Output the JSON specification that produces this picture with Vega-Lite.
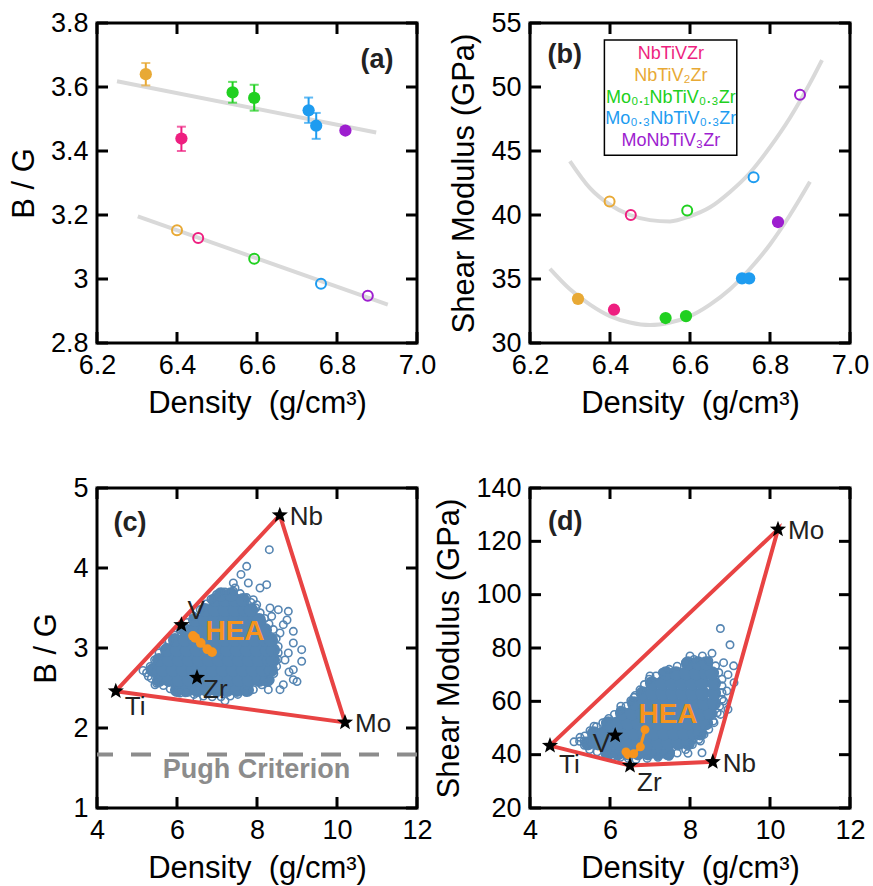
{
"$schema": "https://vega.github.io/schema/vega-lite/v6.json",
"padding": {"left": 6, "top": 7, "right": 5, "bottom": 5},
"bounds": "flush",
"columns": 2,
"spacing": {"row": 145, "column": 113},
"datasets": {
"tkAx": [{"v":6.2},{"v":6.4},{"v":6.6},{"v":6.8},{"v":7.0}],
"tkAy": [{"v":2.8},{"v":3.0},{"v":3.2},{"v":3.4},{"v":3.6},{"v":3.8}],
"tkBy": [{"v":30},{"v":35},{"v":40},{"v":45},{"v":50},{"v":55}],
"tkCx": [{"v":4},{"v":6},{"v":8},{"v":10},{"v":12}],
"tkCy": [{"v":1},{"v":2},{"v":3},{"v":4},{"v":5}],
"tkDy": [{"v":20},{"v":40},{"v":60},{"v":80},{"v":100},{"v":120},{"v":140}],
"fitA": [{"g":"u","x":6.25,"y":3.618},{"g":"u","x":6.898,"y":3.458},{"g":"l","x":6.302,"y":3.196},{"g":"l","x":6.927,"y":2.92}],
"filledA": [
{"alloy":"NbTiV2Zr","x":6.322,"y":3.64,"lo":3.605,"hi":3.675},
{"alloy":"NbTiVZr","x":6.411,"y":3.439,"lo":3.4,"hi":3.476},
{"alloy":"Mo0.1NbTiV0.3Zr","x":6.539,"y":3.583,"lo":3.551,"hi":3.616},
{"alloy":"Mo0.1NbTiV0.3Zr","x":6.593,"y":3.566,"lo":3.526,"hi":3.607},
{"alloy":"Mo0.3NbTiV0.3Zr","x":6.729,"y":3.527,"lo":3.488,"hi":3.567},
{"alloy":"Mo0.3NbTiV0.3Zr","x":6.748,"y":3.479,"lo":3.438,"hi":3.519},
{"alloy":"MoNbTiV3Zr","x":6.821,"y":3.464,"lo":3.464,"hi":3.464}],
"openA": [
{"alloy":"NbTiV2Zr","x":6.40,"y":3.152},
{"alloy":"NbTiVZr","x":6.453,"y":3.128},
{"alloy":"Mo0.1NbTiV0.3Zr","x":6.593,"y":3.063},
{"alloy":"Mo0.3NbTiV0.3Zr","x":6.76,"y":2.985},
{"alloy":"MoNbTiV3Zr","x":6.877,"y":2.948}],
"fitB": [
{"g":"u","x":6.30,"y":44.2},{"g":"u","x":6.35,"y":42.1},{"g":"u","x":6.40,"y":40.8},{"g":"u","x":6.45,"y":40.0},{"g":"u","x":6.50,"y":39.6},{"g":"u","x":6.55,"y":39.5},{"g":"u","x":6.60,"y":39.9},{"g":"u","x":6.65,"y":40.6},{"g":"u","x":6.70,"y":41.8},{"g":"u","x":6.75,"y":43.3},{"g":"u","x":6.80,"y":45.3},{"g":"u","x":6.85,"y":47.6},{"g":"u","x":6.90,"y":50.3},{"g":"u","x":6.93,"y":52.1},
{"g":"l","x":6.25,"y":35.8},{"g":"l","x":6.30,"y":34.2},{"g":"l","x":6.35,"y":33.0},{"g":"l","x":6.40,"y":32.1},{"g":"l","x":6.45,"y":31.6},{"g":"l","x":6.50,"y":31.4},{"g":"l","x":6.55,"y":31.6},{"g":"l","x":6.60,"y":32.1},{"g":"l","x":6.65,"y":33.0},{"g":"l","x":6.70,"y":34.2},{"g":"l","x":6.75,"y":35.8},{"g":"l","x":6.80,"y":37.7},{"g":"l","x":6.85,"y":40.0},{"g":"l","x":6.90,"y":42.6}],
"filledB": [
{"alloy":"NbTiV2Zr","x":6.32,"y":33.45},
{"alloy":"NbTiVZr","x":6.41,"y":32.6},
{"alloy":"Mo0.1NbTiV0.3Zr","x":6.539,"y":31.95},
{"alloy":"Mo0.1NbTiV0.3Zr","x":6.59,"y":32.1},
{"alloy":"Mo0.3NbTiV0.3Zr","x":6.73,"y":35.05},
{"alloy":"Mo0.3NbTiV0.3Zr","x":6.748,"y":35.05},
{"alloy":"MoNbTiV3Zr","x":6.82,"y":39.45}],
"openB": [
{"alloy":"NbTiV2Zr","x":6.399,"y":41.05},
{"alloy":"NbTiVZr","x":6.452,"y":40.0},
{"alloy":"Mo0.1NbTiV0.3Zr","x":6.593,"y":40.35},
{"alloy":"Mo0.3NbTiV0.3Zr","x":6.759,"y":42.95},
{"alloy":"MoNbTiV3Zr","x":6.875,"y":49.4}],
"coreC": [
{"x":6.0,"y":2.475},{"x":6.25,"y":2.475},{"x":6.5,"y":2.475},{"x":6.75,"y":2.475},{"x":7.0,"y":2.475},{"x":7.25,"y":2.475},{"x":7.5,"y":2.475},{"x":7.75,"y":2.475},
{"x":5.55,"y":2.6},{"x":5.8,"y":2.6},{"x":6.05,"y":2.6},{"x":6.3,"y":2.6},{"x":6.55,"y":2.6},{"x":6.8,"y":2.6},{"x":7.05,"y":2.6},{"x":7.3,"y":2.6},{"x":7.55,"y":2.6},{"x":7.8,"y":2.6},{"x":8.05,"y":2.6},{"x":8.25,"y":2.6},
{"x":5.4,"y":2.725},{"x":5.65,"y":2.725},{"x":5.9,"y":2.725},{"x":6.15,"y":2.725},{"x":6.4,"y":2.725},{"x":6.65,"y":2.725},{"x":6.9,"y":2.725},{"x":7.15,"y":2.725},{"x":7.4,"y":2.725},{"x":7.65,"y":2.725},{"x":7.9,"y":2.725},{"x":8.15,"y":2.725},{"x":8.35,"y":2.725},
{"x":5.55,"y":2.85},{"x":5.8,"y":2.85},{"x":6.05,"y":2.85},{"x":6.3,"y":2.85},{"x":6.55,"y":2.85},{"x":6.8,"y":2.85},{"x":7.05,"y":2.85},{"x":7.3,"y":2.85},{"x":7.55,"y":2.85},{"x":7.8,"y":2.85},{"x":8.05,"y":2.85},{"x":8.3,"y":2.85},{"x":8.4,"y":2.85},
{"x":5.75,"y":2.975},{"x":6.0,"y":2.975},{"x":6.25,"y":2.975},{"x":6.5,"y":2.975},{"x":6.75,"y":2.975},{"x":7.0,"y":2.975},{"x":7.25,"y":2.975},{"x":7.5,"y":2.975},{"x":7.75,"y":2.975},{"x":8.0,"y":2.975},{"x":8.25,"y":2.975},{"x":8.4,"y":2.975},
{"x":5.95,"y":3.1},{"x":6.2,"y":3.1},{"x":6.45,"y":3.1},{"x":6.7,"y":3.1},{"x":6.95,"y":3.1},{"x":7.2,"y":3.1},{"x":7.45,"y":3.1},{"x":7.7,"y":3.1},{"x":7.95,"y":3.1},{"x":8.2,"y":3.1},{"x":8.35,"y":3.1},
{"x":6.2,"y":3.225},{"x":6.45,"y":3.225},{"x":6.7,"y":3.225},{"x":6.95,"y":3.225},{"x":7.2,"y":3.225},{"x":7.45,"y":3.225},{"x":7.7,"y":3.225},{"x":7.95,"y":3.225},{"x":8.2,"y":3.225},
{"x":6.45,"y":3.35},{"x":6.7,"y":3.35},{"x":6.95,"y":3.35},{"x":7.2,"y":3.35},{"x":7.45,"y":3.35},{"x":7.7,"y":3.35},{"x":7.95,"y":3.35},{"x":8.05,"y":3.35},
{"x":6.7,"y":3.475},{"x":6.95,"y":3.475},{"x":7.2,"y":3.475},{"x":7.45,"y":3.475},{"x":7.7,"y":3.475},{"x":7.85,"y":3.475},
{"x":6.95,"y":3.6},{"x":7.2,"y":3.6},{"x":7.45,"y":3.6},{"x":7.65,"y":3.6},
{"x":7.1,"y":3.67},{"x":7.35,"y":3.67}],
"edgeC": [
{"x":5.24,"y":2.69},{"x":5.36,"y":2.62},{"x":5.49,"y":2.56},{"x":5.66,"y":2.53},{"x":5.83,"y":2.49},{"x":5.99,"y":2.46},{"x":6.21,"y":2.44},{"x":6.43,"y":2.42},{"x":6.66,"y":2.4},{"x":6.88,"y":2.39},{"x":7.1,"y":2.39},{"x":7.33,"y":2.4},{"x":7.52,"y":2.42},{"x":7.72,"y":2.45},{"x":7.91,"y":2.48},{"x":8.12,"y":2.54},{"x":8.33,"y":2.6},{"x":8.42,"y":2.68},{"x":8.49,"y":2.77},{"x":8.52,"y":2.86},{"x":8.53,"y":2.94},{"x":8.53,"y":3.02},{"x":8.48,"y":3.12},{"x":8.41,"y":3.23},{"x":8.3,"y":3.3},{"x":8.19,"y":3.37},{"x":8.08,"y":3.44},{"x":7.97,"y":3.5},{"x":7.85,"y":3.57},{"x":7.74,"y":3.63},{"x":7.58,"y":3.68},{"x":7.41,"y":3.71},{"x":7.2,"y":3.7},{"x":6.99,"y":3.67},{"x":6.85,"y":3.61},{"x":6.72,"y":3.55},{"x":6.58,"y":3.48},{"x":6.41,"y":3.4},{"x":6.25,"y":3.32},{"x":6.08,"y":3.23},{"x":5.94,"y":3.16},{"x":5.8,"y":3.09},{"x":5.66,"y":3.02},{"x":5.55,"y":2.94},{"x":5.44,"y":2.85},{"x":5.33,"y":2.77},
{"x":8.308,"y":4.229},{"x":7.742,"y":4.021},{"x":7.408,"y":3.813},{"x":7.783,"y":3.813},{"x":8.242,"y":3.792},{"x":8.075,"y":3.75},{"x":7.908,"y":3.604},{"x":7.992,"y":3.542},{"x":8.325,"y":3.5},{"x":8.533,"y":3.479},{"x":8.783,"y":3.458},{"x":8.367,"y":3.396},{"x":8.658,"y":3.292},{"x":8.908,"y":3.208},{"x":8.575,"y":3.1875},{"x":8.908,"y":3.0625},{"x":9.117,"y":2.979},{"x":8.783,"y":2.9375},{"x":9.117,"y":2.833},{"x":8.908,"y":2.729},{"x":8.908,"y":2.604},{"x":8.658,"y":2.542},{"x":9.0,"y":2.58},{"x":8.575,"y":2.479},{"x":8.283,"y":2.479},{"x":5.283,"y":2.646},{"x":5.45,"y":2.54},{"x":6.075,"y":2.4375},{"x":7.6,"y":3.92},{"x":7.45,"y":3.75},{"x":8.75,"y":3.35},{"x":8.7,"y":2.85},{"x":8.8,"y":2.7},{"x":7.2,"y":2.34},{"x":6.5,"y":2.36},{"x":5.15,"y":2.72}],
"polyC": [{"o":1,"x":4.47,"y":2.46},{"o":2,"x":8.57,"y":4.66},{"o":3,"x":10.2,"y":2.07},{"o":4,"x":4.47,"y":2.46}],
"starsC": [{"el":"Ti","x":4.47,"y":2.46},{"el":"V","x":6.11,"y":3.29},{"el":"Zr","x":6.5,"y":2.63},{"el":"Nb","x":8.57,"y":4.66},{"el":"Mo","x":10.2,"y":2.07}],
"coreD": [
{"x":5.95,"y":40.5},{"x":6.2,"y":40.5},{"x":6.45,"y":40.5},{"x":6.7,"y":40.5},{"x":6.95,"y":40.5},{"x":7.2,"y":40.5},{"x":7.45,"y":40.5},
{"x":5.45,"y":44.25},{"x":5.7,"y":44.25},{"x":5.95,"y":44.25},{"x":6.2,"y":44.25},{"x":6.45,"y":44.25},{"x":6.7,"y":44.25},{"x":6.95,"y":44.25},{"x":7.2,"y":44.25},{"x":7.45,"y":44.25},{"x":7.7,"y":44.25},{"x":7.95,"y":44.25},
{"x":5.6,"y":48},{"x":5.85,"y":48},{"x":6.1,"y":48},{"x":6.35,"y":48},{"x":6.6,"y":48},{"x":6.85,"y":48},{"x":7.1,"y":48},{"x":7.35,"y":48},{"x":7.6,"y":48},{"x":7.85,"y":48},{"x":8.1,"y":48},{"x":8.25,"y":48},
{"x":5.95,"y":51.75},{"x":6.2,"y":51.75},{"x":6.45,"y":51.75},{"x":6.7,"y":51.75},{"x":6.95,"y":51.75},{"x":7.2,"y":51.75},{"x":7.45,"y":51.75},{"x":7.7,"y":51.75},{"x":7.95,"y":51.75},{"x":8.2,"y":51.75},{"x":8.4,"y":51.75},
{"x":6.3,"y":55.5},{"x":6.55,"y":55.5},{"x":6.8,"y":55.5},{"x":7.05,"y":55.5},{"x":7.3,"y":55.5},{"x":7.55,"y":55.5},{"x":7.8,"y":55.5},{"x":8.05,"y":55.5},{"x":8.3,"y":55.5},{"x":8.5,"y":55.5},
{"x":6.6,"y":59.25},{"x":6.85,"y":59.25},{"x":7.1,"y":59.25},{"x":7.35,"y":59.25},{"x":7.6,"y":59.25},{"x":7.85,"y":59.25},{"x":8.1,"y":59.25},{"x":8.35,"y":59.25},{"x":8.6,"y":59.25},
{"x":6.82,"y":63},{"x":7.07,"y":63},{"x":7.32,"y":63},{"x":7.57,"y":63},{"x":7.82,"y":63},{"x":8.07,"y":63},{"x":8.32,"y":63},{"x":8.6,"y":63},
{"x":7.05,"y":66.75},{"x":7.3,"y":66.75},{"x":7.55,"y":66.75},{"x":7.8,"y":66.75},{"x":8.05,"y":66.75},{"x":8.3,"y":66.75},{"x":8.6,"y":66.75},
{"x":7.4,"y":70.5},{"x":7.65,"y":70.5},{"x":7.9,"y":70.5},{"x":8.15,"y":70.5},{"x":8.4,"y":70.5},{"x":8.55,"y":70.5},
{"x":7.95,"y":74.25},{"x":8.2,"y":74.25},{"x":8.4,"y":74.25}],
"edgeD": [
{"x":5.24,"y":45},{"x":5.37,"y":47},{"x":5.5,"y":49},{"x":5.66,"y":50.5},{"x":5.82,"y":52},{"x":5.97,"y":53.6},{"x":6.11,"y":55.1},{"x":6.26,"y":56.7},{"x":6.4,"y":58.2},{"x":6.52,"y":60.2},{"x":6.63,"y":62.2},{"x":6.75,"y":64.3},{"x":6.86,"y":66.3},{"x":6.98,"y":68.3},{"x":7.15,"y":69.5},{"x":7.31,"y":70.8},{"x":7.48,"y":72},{"x":7.68,"y":73.2},{"x":7.89,"y":74.5},{"x":8.1,"y":75.7},{"x":8.31,"y":77},{"x":8.47,"y":75.2},{"x":8.64,"y":73.3},{"x":8.72,"y":70.8},{"x":8.8,"y":68.3},{"x":8.8,"y":65.8},{"x":8.8,"y":63.3},{"x":8.8,"y":60.8},{"x":8.74,"y":58.2},{"x":8.68,"y":55.7},{"x":8.58,"y":52.6},{"x":8.47,"y":49.5},{"x":8.35,"y":47.6},{"x":8.22,"y":45.7},{"x":8.06,"y":43.8},{"x":7.89,"y":41.9},{"x":7.68,"y":40.6},{"x":7.48,"y":39.4},{"x":7.2,"y":39},{"x":6.93,"y":38.6},{"x":6.65,"y":38.2},{"x":6.46,"y":38.6},{"x":6.26,"y":39},{"x":6.07,"y":39.4},{"x":5.88,"y":40.2},{"x":5.68,"y":41.1},{"x":5.49,"y":41.9},{"x":5.36,"y":43.5},
{"x":8.76,"y":87.3},{"x":9.0,"y":81.2},{"x":8.84,"y":74.5},{"x":9.09,"y":73.3},{"x":9.1,"y":67},{"x":8.92,"y":63.9},{"x":8.84,"y":60.1},{"x":8.76,"y":55.1},{"x":8.6,"y":52.0},{"x":8.3,"y":40.7},{"x":8.26,"y":45.1},{"x":7.0,"y":69.5},{"x":6.27,"y":58.2},{"x":5.6,"y":50.7},{"x":5.35,"y":45.1},{"x":8.95,"y":70},{"x":8.55,"y":78},{"x":8.0,"y":77},{"x":8.95,"y":57},{"x":7.95,"y":40.5},{"x":6.6,"y":61.5},{"x":5.1,"y":44.8},{"x":5.25,"y":46.5}],
"polyD": [{"o":1,"x":4.5,"y":43.4},{"o":2,"x":10.2,"y":124.5},{"o":3,"x":8.57,"y":37.3},{"o":4,"x":6.5,"y":35.9},{"o":5,"x":4.5,"y":43.4}],
"starsD": [{"el":"Ti","x":4.5,"y":43.4},{"el":"V","x":6.13,"y":47.2},{"el":"Zr","x":6.5,"y":35.9},{"el":"Nb","x":8.57,"y":37.3},{"el":"Mo","x":10.2,"y":124.5}]
},
"concat": [
{
"width": 320, "height": 320,
"resolve": {"axis": {"x": "independent", "y": "independent"}},
"layer": [
 {"data": {"name": "fitA"}, "mark": {"type": "line", "color": "#d9d9d9", "strokeWidth": 4},
  "encoding": {
   "x": {"field": "x", "type": "quantitative", "scale": {"domain": [6.2, 7.0], "nice": false, "zero": false}, "axis": {"values": [6.2, 6.4, 6.6, 6.8, 7.0], "format": ".1f", "title": "Density\u00a0\u00a0(g/cm³)"}},
   "y": {"field": "y", "type": "quantitative", "scale": {"domain": [2.8, 3.8], "nice": false, "zero": false}, "axis": {"values": [2.8, 3, 3.2, 3.4, 3.6, 3.8], "format": "~g", "title": "B / G"}},
   "detail": {"field": "g", "type": "nominal"}}},
 {"data": {"name": "tkAx"}, "mark": {"type": "tick", "orient": "vertical", "size": 11, "thickness": 3, "color": "black", "opacity": 1},
  "encoding": {"x": {"field": "v", "type": "quantitative", "axis": null}, "y": {"datum": 2.8172, "axis": null}}},
 {"data": {"name": "tkAx"}, "mark": {"type": "tick", "orient": "vertical", "size": 11, "thickness": 3, "color": "black", "opacity": 1},
  "encoding": {"x": {"field": "v", "type": "quantitative", "axis": null}, "y": {"datum": 3.7828, "axis": null}}},
 {"data": {"name": "tkAy"}, "mark": {"type": "tick", "orient": "horizontal", "size": 11, "thickness": 3, "color": "black", "opacity": 1},
  "encoding": {"y": {"field": "v", "type": "quantitative", "axis": null}, "x": {"datum": 6.21375, "axis": null}}},
 {"data": {"name": "tkAy"}, "mark": {"type": "tick", "orient": "horizontal", "size": 11, "thickness": 3, "color": "black", "opacity": 1},
  "encoding": {"y": {"field": "v", "type": "quantitative", "axis": null}, "x": {"datum": 6.98625, "axis": null}}},
 {"data": {"name": "filledA"}, "mark": {"type": "rule", "strokeWidth": 2},
  "encoding": {
   "x": {"field": "x", "type": "quantitative", "axis": null},
   "y": {"field": "lo", "type": "quantitative", "axis": null}, "y2": {"field": "hi"},
   "color": {"field": "alloy", "type": "nominal", "scale": {"domain": ["NbTiVZr", "NbTiV2Zr", "Mo0.1NbTiV0.3Zr", "Mo0.3NbTiV0.3Zr", "MoNbTiV3Zr"], "range": ["#ee1f80", "#e8a935", "#20d020", "#1e9cf0", "#9d1ecf"]}, "legend": null}}},
 {"data": {"name": "filledA"}, "transform": [{"fold": ["lo", "hi"], "as": ["k", "v"]}], "mark": {"type": "tick", "orient": "horizontal", "size": 9, "thickness": 2},
  "encoding": {
   "x": {"field": "x", "type": "quantitative", "axis": null},
   "y": {"field": "v", "type": "quantitative", "axis": null},
   "color": {"field": "alloy", "type": "nominal", "scale": {"domain": ["NbTiVZr", "NbTiV2Zr", "Mo0.1NbTiV0.3Zr", "Mo0.3NbTiV0.3Zr", "MoNbTiV3Zr"], "range": ["#ee1f80", "#e8a935", "#20d020", "#1e9cf0", "#9d1ecf"]}, "legend": null}}},
 {"data": {"name": "filledA"}, "mark": {"type": "point", "shape": "circle", "filled": true, "size": 150, "opacity": 1},
  "encoding": {
   "x": {"field": "x", "type": "quantitative", "axis": null},
   "y": {"field": "y", "type": "quantitative", "axis": null},
   "color": {"field": "alloy", "type": "nominal", "scale": {"domain": ["NbTiVZr", "NbTiV2Zr", "Mo0.1NbTiV0.3Zr", "Mo0.3NbTiV0.3Zr", "MoNbTiV3Zr"], "range": ["#ee1f80", "#e8a935", "#20d020", "#1e9cf0", "#9d1ecf"]}, "legend": null}}},
 {"data": {"name": "openA"}, "mark": {"type": "point", "shape": "circle", "filled": false, "size": 100, "strokeWidth": 2, "opacity": 1},
  "encoding": {
   "x": {"field": "x", "type": "quantitative", "axis": null},
   "y": {"field": "y", "type": "quantitative", "axis": null},
   "color": {"field": "alloy", "type": "nominal", "scale": {"domain": ["NbTiVZr", "NbTiV2Zr", "Mo0.1NbTiV0.3Zr", "Mo0.3NbTiV0.3Zr", "MoNbTiV3Zr"], "range": ["#ee1f80", "#e8a935", "#20d020", "#1e9cf0", "#9d1ecf"]}, "legend": null}}},
 {"data": {"values": [{}]}, "mark": {"type": "text", "text": "(a)", "fontSize": 27, "fontWeight": "bold", "align": "center", "baseline": "middle", "color": "#222222"},
  "encoding": {"x": {"datum": 6.9, "axis": null}, "y": {"datum": 3.684, "axis": null}}}
]
},
{
"width": 320, "height": 320,
"resolve": {"axis": {"x": "independent", "y": "independent"}},
"layer": [
 {"data": {"name": "fitB"}, "mark": {"type": "line", "color": "#d9d9d9", "strokeWidth": 4, "interpolate": "monotone"},
  "encoding": {
   "x": {"field": "x", "type": "quantitative", "scale": {"domain": [6.2, 7.0], "nice": false, "zero": false}, "axis": {"values": [6.2, 6.4, 6.6, 6.8, 7.0], "format": ".1f", "title": "Density\u00a0\u00a0(g/cm³)"}},
   "y": {"field": "y", "type": "quantitative", "scale": {"domain": [30, 55], "nice": false, "zero": false}, "axis": {"values": [30, 35, 40, 45, 50, 55], "title": "Shear Modulus (GPa)"}},
   "detail": {"field": "g", "type": "nominal"}}},
 {"data": {"name": "tkAx"}, "mark": {"type": "tick", "orient": "vertical", "size": 11, "thickness": 3, "color": "black", "opacity": 1},
  "encoding": {"x": {"field": "v", "type": "quantitative", "axis": null}, "y": {"datum": 30.43, "axis": null}}},
 {"data": {"name": "tkAx"}, "mark": {"type": "tick", "orient": "vertical", "size": 11, "thickness": 3, "color": "black", "opacity": 1},
  "encoding": {"x": {"field": "v", "type": "quantitative", "axis": null}, "y": {"datum": 54.57, "axis": null}}},
 {"data": {"name": "tkBy"}, "mark": {"type": "tick", "orient": "horizontal", "size": 11, "thickness": 3, "color": "black", "opacity": 1},
  "encoding": {"y": {"field": "v", "type": "quantitative", "axis": null}, "x": {"datum": 6.21375, "axis": null}}},
 {"data": {"name": "tkBy"}, "mark": {"type": "tick", "orient": "horizontal", "size": 11, "thickness": 3, "color": "black", "opacity": 1},
  "encoding": {"y": {"field": "v", "type": "quantitative", "axis": null}, "x": {"datum": 6.98625, "axis": null}}},
 {"data": {"values": [{}]}, "mark": {"type": "rect", "fill": "white", "stroke": "black", "strokeWidth": 1.5},
  "encoding": {"x": {"datum": 6.386, "axis": null}, "x2": {"datum": 6.717}, "y": {"datum": 44.66, "axis": null}, "y2": {"datum": 53.67}}},
 {"data": {"values": [{}]}, "mark": {"type": "text", "text": "NbTiVZr", "fontSize": 18, "align": "center", "baseline": "middle", "color": "#ee1f80"},
  "encoding": {"x": {"datum": 6.552, "axis": null}, "y": {"datum": 52.59, "axis": null}}},
 {"data": {"values": [{}]}, "mark": {"type": "text", "text": "NbTiV₂Zr", "fontSize": 18, "align": "center", "baseline": "middle", "color": "#e8a935"},
  "encoding": {"x": {"datum": 6.552, "axis": null}, "y": {"datum": 50.85, "axis": null}}},
 {"data": {"values": [{}]}, "mark": {"type": "text", "text": "Mo₀.₁NbTiV₀.₃Zr", "fontSize": 18, "align": "center", "baseline": "middle", "color": "#20d020"},
  "encoding": {"x": {"datum": 6.552, "axis": null}, "y": {"datum": 49.12, "axis": null}}},
 {"data": {"values": [{}]}, "mark": {"type": "text", "text": "Mo₀.₃NbTiV₀.₃Zr", "fontSize": 18, "align": "center", "baseline": "middle", "color": "#1e9cf0"},
  "encoding": {"x": {"datum": 6.552, "axis": null}, "y": {"datum": 47.5, "axis": null}}},
 {"data": {"values": [{}]}, "mark": {"type": "text", "text": "MoNbTiV₃Zr", "fontSize": 18, "align": "center", "baseline": "middle", "color": "#9d1ecf"},
  "encoding": {"x": {"datum": 6.552, "axis": null}, "y": {"datum": 45.8, "axis": null}}},
 {"data": {"name": "filledB"}, "mark": {"type": "point", "shape": "circle", "filled": true, "size": 150, "opacity": 1},
  "encoding": {
   "x": {"field": "x", "type": "quantitative", "axis": null},
   "y": {"field": "y", "type": "quantitative", "axis": null},
   "color": {"field": "alloy", "type": "nominal", "scale": {"domain": ["NbTiVZr", "NbTiV2Zr", "Mo0.1NbTiV0.3Zr", "Mo0.3NbTiV0.3Zr", "MoNbTiV3Zr"], "range": ["#ee1f80", "#e8a935", "#20d020", "#1e9cf0", "#9d1ecf"]}, "legend": null}}},
 {"data": {"name": "openB"}, "mark": {"type": "point", "shape": "circle", "filled": false, "size": 100, "strokeWidth": 2, "opacity": 1},
  "encoding": {
   "x": {"field": "x", "type": "quantitative", "axis": null},
   "y": {"field": "y", "type": "quantitative", "axis": null},
   "color": {"field": "alloy", "type": "nominal", "scale": {"domain": ["NbTiVZr", "NbTiV2Zr", "Mo0.1NbTiV0.3Zr", "Mo0.3NbTiV0.3Zr", "MoNbTiV3Zr"], "range": ["#ee1f80", "#e8a935", "#20d020", "#1e9cf0", "#9d1ecf"]}, "legend": null}}},
 {"data": {"values": [{}]}, "mark": {"type": "text", "text": "(b)", "fontSize": 27, "fontWeight": "bold", "align": "center", "baseline": "middle", "color": "#222222"},
  "encoding": {"x": {"datum": 6.287, "axis": null}, "y": {"datum": 52.49, "axis": null}}}
]
},
{
"width": 320, "height": 320,
"resolve": {"axis": {"x": "independent", "y": "independent"}},
"layer": [
 {"data": {"name": "coreC"}, "mark": {"type": "point", "shape": "circle", "filled": true, "size": 200, "opacity": 1, "color": "#5585b2"},
  "encoding": {
   "x": {"field": "x", "type": "quantitative", "scale": {"domain": [4, 12], "nice": false, "zero": false}, "axis": {"values": [4, 6, 8, 10, 12], "title": "Density\u00a0\u00a0(g/cm³)"}},
   "y": {"field": "y", "type": "quantitative", "scale": {"domain": [1, 5], "nice": false, "zero": false}, "axis": {"values": [1, 2, 3, 4, 5], "title": "B / G"}}}},
 {"data": {"name": "tkCx"}, "mark": {"type": "tick", "orient": "vertical", "size": 11, "thickness": 3, "color": "black", "opacity": 1},
  "encoding": {"x": {"field": "v", "type": "quantitative", "axis": null}, "y": {"datum": 1.06875, "axis": null}}},
 {"data": {"name": "tkCx"}, "mark": {"type": "tick", "orient": "vertical", "size": 11, "thickness": 3, "color": "black", "opacity": 1},
  "encoding": {"x": {"field": "v", "type": "quantitative", "axis": null}, "y": {"datum": 4.93125, "axis": null}}},
 {"data": {"name": "tkCy"}, "mark": {"type": "tick", "orient": "horizontal", "size": 11, "thickness": 3, "color": "black", "opacity": 1},
  "encoding": {"y": {"field": "v", "type": "quantitative", "axis": null}, "x": {"datum": 4.1375, "axis": null}}},
 {"data": {"name": "tkCy"}, "mark": {"type": "tick", "orient": "horizontal", "size": 11, "thickness": 3, "color": "black", "opacity": 1},
  "encoding": {"y": {"field": "v", "type": "quantitative", "axis": null}, "x": {"datum": 11.8625, "axis": null}}},
 {"data": {"name": "edgeC"}, "mark": {"type": "point", "shape": "circle", "filled": false, "size": 55, "strokeWidth": 1.6, "opacity": 1, "color": "#5585b2"},
  "encoding": {"x": {"field": "x", "type": "quantitative", "axis": null}, "y": {"field": "y", "type": "quantitative", "axis": null}}},
 {"data": {"values": [{}]}, "mark": {"type": "rule", "color": "#8c8c8c", "strokeWidth": 4, "strokeDash": [20, 18]},
  "encoding": {"y": {"datum": 1.67, "axis": null}}},
 {"data": {"values": [{}]}, "mark": {"type": "text", "text": "Pugh Criterion", "fontSize": 27, "fontWeight": "bold", "align": "center", "baseline": "alphabetic", "color": "#8c8c8c"},
  "encoding": {"x": {"datum": 7.99, "axis": null}, "y": {"datum": 1.375, "axis": null}}},
 {"data": {"name": "polyC"}, "mark": {"type": "line", "color": "#e84343", "strokeWidth": 4, "strokeJoin": "miter"},
  "encoding": {"x": {"field": "x", "type": "quantitative", "axis": null}, "y": {"field": "y", "type": "quantitative", "axis": null}, "order": {"field": "o", "type": "quantitative"}}},
 {"data": {"name": "openA"}, "mark": {"type": "line", "color": "#f7941d", "strokeWidth": 4, "point": {"filled": true, "size": 95, "color": "#f7941d", "opacity": 1}},
  "encoding": {"x": {"field": "x", "type": "quantitative", "axis": null}, "y": {"field": "y", "type": "quantitative", "axis": null}}},
 {"data": {"name": "starsC"}, "mark": {"type": "point", "shape": "M0,-1L0.247,-0.34L0.951,-0.309L0.399,0.13L0.588,0.809L0,0.42L-0.588,0.809L-0.399,0.13L-0.951,-0.309L-0.247,-0.34Z", "filled": true, "size": 290, "opacity": 1, "color": "black"},
  "encoding": {"x": {"field": "x", "type": "quantitative", "axis": null}, "y": {"field": "y", "type": "quantitative", "axis": null}}},
 {"data": {"name": "starsC"}, "transform": [{"filter": "datum.el === 'Nb' || datum.el === 'Mo'"}], "mark": {"type": "text", "fontSize": 26, "align": "left", "baseline": "alphabetic", "dx": 10, "dy": 10, "color": "#222222"},
  "encoding": {"x": {"field": "x", "type": "quantitative", "axis": null}, "y": {"field": "y", "type": "quantitative", "axis": null}, "text": {"field": "el"}}},
 {"data": {"name": "starsC"}, "transform": [{"filter": "datum.el === 'Ti'"}], "mark": {"type": "text", "fontSize": 26, "align": "left", "baseline": "alphabetic", "dx": 9, "dy": 24, "color": "#222222"},
  "encoding": {"x": {"field": "x", "type": "quantitative", "axis": null}, "y": {"field": "y", "type": "quantitative", "axis": null}, "text": {"field": "el"}}},
 {"data": {"name": "starsC"}, "transform": [{"filter": "datum.el === 'Zr'"}], "mark": {"type": "text", "fontSize": 26, "align": "left", "baseline": "alphabetic", "dx": 6, "dy": 20, "color": "#222222"},
  "encoding": {"x": {"field": "x", "type": "quantitative", "axis": null}, "y": {"field": "y", "type": "quantitative", "axis": null}, "text": {"field": "el"}}},
 {"data": {"name": "starsC"}, "transform": [{"filter": "datum.el === 'V'"}], "mark": {"type": "text", "fontSize": 26, "align": "left", "baseline": "alphabetic", "dx": 6, "dy": -6, "color": "#222222"},
  "encoding": {"x": {"field": "x", "type": "quantitative", "axis": null}, "y": {"field": "y", "type": "quantitative", "axis": null}, "text": {"field": "el"}}},
 {"data": {"values": [{}]}, "mark": {"type": "text", "text": "HEA", "fontSize": 28, "fontWeight": "bold", "align": "center", "baseline": "alphabetic", "color": "#f7941d"},
  "encoding": {"x": {"datum": 7.45, "axis": null}, "y": {"datum": 3.1, "axis": null}}},
 {"data": {"values": [{}]}, "mark": {"type": "text", "text": "(c)", "fontSize": 27, "fontWeight": "bold", "align": "center", "baseline": "middle", "color": "#222222"},
  "encoding": {"x": {"datum": 4.825, "axis": null}, "y": {"datum": 4.5625, "axis": null}}}
]
},
{
"width": 320, "height": 320,
"resolve": {"axis": {"x": "independent", "y": "independent"}},
"layer": [
 {"data": {"name": "coreD"}, "mark": {"type": "point", "shape": "circle", "filled": true, "size": 200, "opacity": 1, "color": "#5585b2"},
  "encoding": {
   "x": {"field": "x", "type": "quantitative", "scale": {"domain": [4, 12], "nice": false, "zero": false}, "axis": {"values": [4, 6, 8, 10, 12], "title": "Density\u00a0\u00a0(g/cm³)"}},
   "y": {"field": "y", "type": "quantitative", "scale": {"domain": [20, 140], "nice": false, "zero": false}, "axis": {"values": [20, 40, 60, 80, 100, 120, 140], "title": "Shear Modulus (GPa)"}}}},
 {"data": {"name": "tkCx"}, "mark": {"type": "tick", "orient": "vertical", "size": 11, "thickness": 3, "color": "black", "opacity": 1},
  "encoding": {"x": {"field": "v", "type": "quantitative", "axis": null}, "y": {"datum": 22.0625, "axis": null}}},
 {"data": {"name": "tkCx"}, "mark": {"type": "tick", "orient": "vertical", "size": 11, "thickness": 3, "color": "black", "opacity": 1},
  "encoding": {"x": {"field": "v", "type": "quantitative", "axis": null}, "y": {"datum": 137.9375, "axis": null}}},
 {"data": {"name": "tkDy"}, "mark": {"type": "tick", "orient": "horizontal", "size": 11, "thickness": 3, "color": "black", "opacity": 1},
  "encoding": {"y": {"field": "v", "type": "quantitative", "axis": null}, "x": {"datum": 4.1375, "axis": null}}},
 {"data": {"name": "tkDy"}, "mark": {"type": "tick", "orient": "horizontal", "size": 11, "thickness": 3, "color": "black", "opacity": 1},
  "encoding": {"y": {"field": "v", "type": "quantitative", "axis": null}, "x": {"datum": 11.8625, "axis": null}}},
 {"data": {"name": "edgeD"}, "mark": {"type": "point", "shape": "circle", "filled": false, "size": 55, "strokeWidth": 1.6, "opacity": 1, "color": "#5585b2"},
  "encoding": {"x": {"field": "x", "type": "quantitative", "axis": null}, "y": {"field": "y", "type": "quantitative", "axis": null}}},
 {"data": {"name": "polyD"}, "mark": {"type": "line", "color": "#e84343", "strokeWidth": 4, "strokeJoin": "miter"},
  "encoding": {"x": {"field": "x", "type": "quantitative", "axis": null}, "y": {"field": "y", "type": "quantitative", "axis": null}, "order": {"field": "o", "type": "quantitative"}}},
 {"data": {"name": "openB"}, "mark": {"type": "line", "color": "#f7941d", "strokeWidth": 3, "point": {"filled": true, "size": 80, "color": "#f7941d", "opacity": 1}},
  "encoding": {"x": {"field": "x", "type": "quantitative", "axis": null}, "y": {"field": "y", "type": "quantitative", "axis": null}}},
 {"data": {"name": "starsD"}, "mark": {"type": "point", "shape": "M0,-1L0.247,-0.34L0.951,-0.309L0.399,0.13L0.588,0.809L0,0.42L-0.588,0.809L-0.399,0.13L-0.951,-0.309L-0.247,-0.34Z", "filled": true, "size": 290, "opacity": 1, "color": "black"},
  "encoding": {"x": {"field": "x", "type": "quantitative", "axis": null}, "y": {"field": "y", "type": "quantitative", "axis": null}}},
 {"data": {"name": "starsD"}, "transform": [{"filter": "datum.el === 'Nb' || datum.el === 'Mo'"}], "mark": {"type": "text", "fontSize": 26, "align": "left", "baseline": "alphabetic", "dx": 10, "dy": 10, "color": "#222222"},
  "encoding": {"x": {"field": "x", "type": "quantitative", "axis": null}, "y": {"field": "y", "type": "quantitative", "axis": null}, "text": {"field": "el"}}},
 {"data": {"name": "starsD"}, "transform": [{"filter": "datum.el === 'Ti'"}], "mark": {"type": "text", "fontSize": 26, "align": "left", "baseline": "alphabetic", "dx": 9, "dy": 27, "color": "#222222"},
  "encoding": {"x": {"field": "x", "type": "quantitative", "axis": null}, "y": {"field": "y", "type": "quantitative", "axis": null}, "text": {"field": "el"}}},
 {"data": {"name": "starsD"}, "transform": [{"filter": "datum.el === 'Zr'"}], "mark": {"type": "text", "fontSize": 26, "align": "left", "baseline": "alphabetic", "dx": 7, "dy": 25, "color": "#222222"},
  "encoding": {"x": {"field": "x", "type": "quantitative", "axis": null}, "y": {"field": "y", "type": "quantitative", "axis": null}, "text": {"field": "el"}}},
 {"data": {"name": "starsD"}, "transform": [{"filter": "datum.el === 'V'"}], "mark": {"type": "text", "fontSize": 26, "align": "right", "baseline": "alphabetic", "dx": -5, "dy": 17, "color": "#222222"},
  "encoding": {"x": {"field": "x", "type": "quantitative", "axis": null}, "y": {"field": "y", "type": "quantitative", "axis": null}, "text": {"field": "el"}}},
 {"data": {"values": [{}]}, "mark": {"type": "text", "text": "HEA", "fontSize": 28, "fontWeight": "bold", "align": "center", "baseline": "alphabetic", "color": "#f7941d"},
  "encoding": {"x": {"datum": 7.45, "axis": null}, "y": {"datum": 51.96, "axis": null}}},
 {"data": {"values": [{}]}, "mark": {"type": "text", "text": "(d)", "fontSize": 27, "fontWeight": "bold", "align": "center", "baseline": "middle", "color": "#222222"},
  "encoding": {"x": {"datum": 4.88, "axis": null}, "y": {"datum": 127.2, "axis": null}}}
]
}
],
"config": {
 "view": {"stroke": "black", "strokeWidth": 3},
 "font": "Liberation Sans",
 "axis": {"domain": false, "grid": false, "ticks": false,
  "labelFont": "Liberation Sans", "labelFontSize": 27, "labelColor": "black", "labelPadding": 9, "labelFlush": false, "labelOverlap": false, "labelBound": false,
  "titleFont": "Liberation Sans", "titleFontSize": 31, "titleFontWeight": "normal", "titleColor": "black", "titlePadding": 10},
 "text": {"font": "Liberation Sans"}
}
}
